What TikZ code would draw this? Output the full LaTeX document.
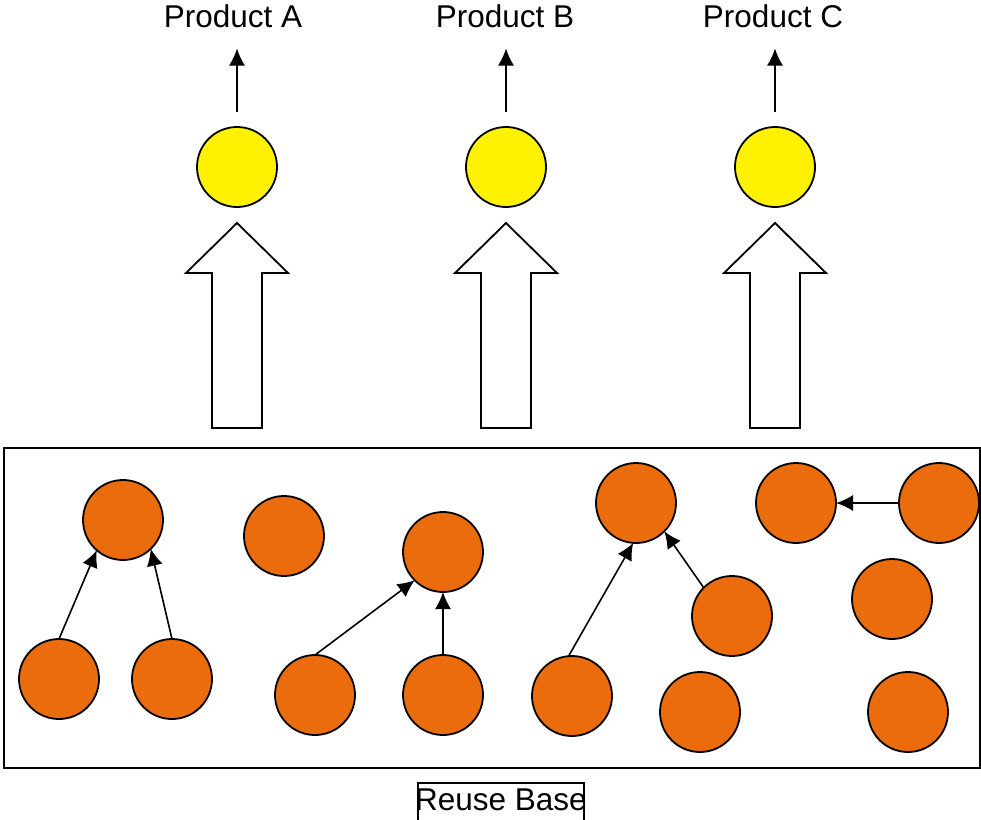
\documentclass[tikz,border=0pt]{standalone}
\usepackage{fontspec}
\setmainfont{Liberation Sans}
\usetikzlibrary{arrows.meta}
\definecolor{partorange}{RGB}{234,108,12}
\begin{document}
\begin{tikzpicture}[x=1pt, y=-1pt, >={Latex[length=17pt,width=16pt]},
		prod/.style={circle, draw, line width=1.8pt, fill=yellow, minimum size=80pt, inner sep=0pt, outer sep=0pt},
		part/.style={circle, draw, line width=1.8pt, fill=partorange, minimum size=80pt, inner sep=0pt, outer sep=0pt},
		lbl/.style={font=\fontsize{31.5}{36}\selectfont, anchor=base, inner sep=0pt},
		link/.style={line width=1.6pt, ->},
		blockarr/.style={draw, line width=1.8pt, fill=white, line join=miter}]
			\useasboundingbox (0,0) rectangle (981,819);
			% the three products on top
			\node[lbl] (pa) at (233,27) {Product A};
			\node[lbl] (pb) at (505,27) {Product B};
			\node[lbl] (pc) at (773,27) {Product C};
			\node[prod] (ya) at (237,167) {};
			\node[prod] (yb) at (506,167) {};
			\node[prod] (yc) at (775,167) {};
			\foreach \p in {a,b,c}
				\draw[link, shorten <=15pt, shorten >=21pt] (y\p.north) -- (y\p.north |- p\p.south);
			% the big hollow arrows
			\foreach \x in {237,506,775}
				\draw[blockarr] ({\x-25},428) -- ({\x-25},273) -- ({\x-51},273) -- (\x,223) -- ({\x+51},273) -- ({\x+25},273) -- ({\x+25},428) -- cycle;
			% the reuse base
			\draw[line width=2pt] (4,448) rectangle (980,768);
			\node[part] (c1) at (123,520) {};
			\node[part] (c2) at (284,536) {};
			\node[part] (c3) at (443,552) {};
			\node[part] (c4) at (636,503) {};
			\node[part] (c5) at (796,503) {};
			\node[part] (c6) at (939,503) {};
			\node[part] (c7) at (892,599) {};
			\node[part] (c8) at (732,616) {};
			\node[part] (c9) at (59,679) {};
			\node[part] (c10) at (172,679) {};
			\node[part] (c11) at (315,695) {};
			\node[part] (c12) at (443,695) {};
			\node[part] (c13) at (572,696) {};
			\node[part] (c14) at (700,712) {};
			\node[part] (c15) at (908,712) {};
			\draw[link] (c9.north) -- (c1.229);
			\draw[link] (c10.north) -- (c1.314);
			\draw[link] (c11.north) -- (c3.225);
			\draw[link] (c12.north) -- (c3.south);
			\draw[link] (c13.95) -- (c4.266);
			\draw[link] (c8.135) -- (c4.315);
			\draw[link] (c6.west) -- (c5.east);
			% caption, its box runs off the page
			\draw[line width=1.5pt] (418,783) rectangle (584,840);
			\node[lbl] (rb) at (501,810) {Reuse Base};
		\end{tikzpicture}
\end{document}
